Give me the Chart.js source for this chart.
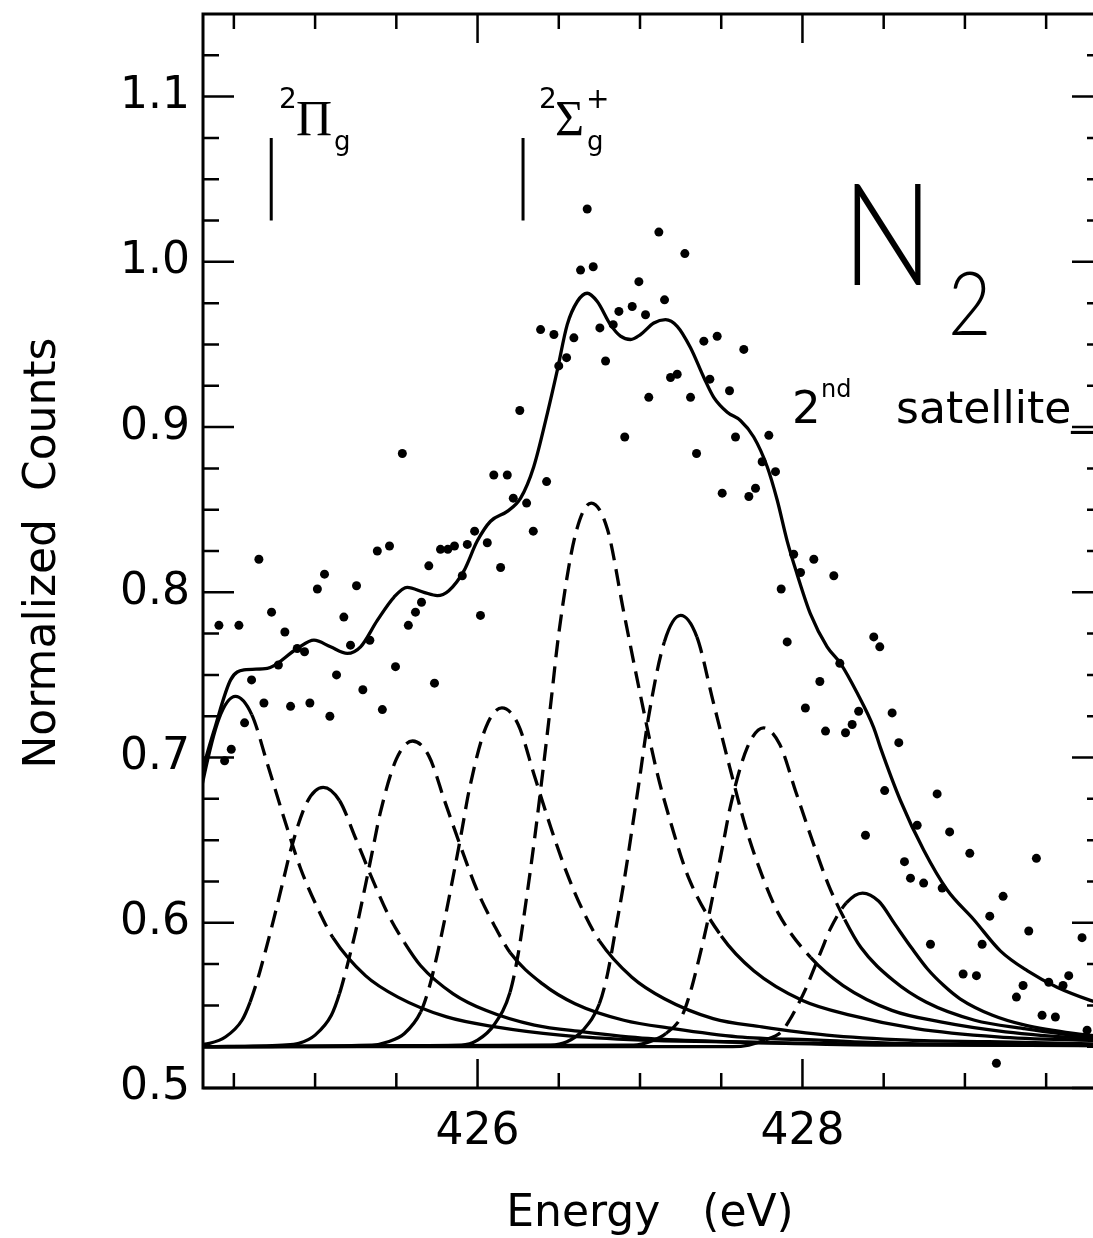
<!DOCTYPE html>
<html>
<head>
<meta charset="utf-8">
<script src="https://cdn.jsdelivr.net/npm/chart.js@4.4.0/dist/chart.umd.min.js"></script>
<style>
  html, body { margin: 0; padding: 0; background: #fff; overflow: hidden; }
  #wrap { width: 1093px; height: 1238px; overflow: hidden; }
</style>
</head>
<body>
<div id="wrap"><canvas id="chart" width="1110" height="1238"></canvas></div>
<script>
// measured points (energy in eV, normalized counts)
const dotEnergy = [424.408, 424.443, 424.484, 424.531, 424.566, 424.609, 424.654, 424.685, 424.732, 424.774,
  424.814, 424.849, 424.890, 424.935, 424.968, 425.014, 425.058, 425.091, 425.132, 425.177,
  425.218, 425.255, 425.294, 425.337, 425.383, 425.414, 425.458, 425.495, 425.537, 425.574,
  425.618, 425.655, 425.700, 425.735, 425.772, 425.817, 425.858, 425.906, 425.937, 425.982,
  426.018, 426.060, 426.100, 426.142, 426.183, 426.220, 426.260, 426.302, 426.343, 426.388,
  426.425, 426.470, 426.500, 426.548, 426.593, 426.634, 426.675, 426.712, 426.753, 426.788,
  426.835, 426.870, 426.906, 426.952, 426.993, 427.034, 427.054, 427.116, 427.151, 427.188,
  427.229, 427.276, 427.311, 427.348, 427.393, 427.430, 427.475, 427.506, 427.551, 427.588,
  427.639, 427.670, 427.711, 427.752, 427.793, 427.834, 427.869, 427.906, 427.946, 427.988,
  428.018, 428.070, 428.107, 428.142, 428.193, 428.230, 428.265, 428.306, 428.346, 428.388,
  428.439, 428.476, 428.506, 428.552, 428.593, 428.628, 428.665, 428.706, 428.746, 428.788,
  428.829, 428.860, 428.906, 428.989, 429.030, 429.071, 429.106, 429.153, 429.194, 429.235,
  429.317, 429.358, 429.393, 429.440, 429.475, 429.516, 429.557, 429.604, 429.639, 429.721,
  429.752];
const dotCounts = [0.780, 0.698, 0.705, 0.780, 0.721, 0.747, 0.820, 0.733, 0.788, 0.756,
  0.776, 0.731, 0.766, 0.764, 0.733, 0.802, 0.811, 0.725, 0.750, 0.785,
  0.768, 0.804, 0.741, 0.771, 0.825, 0.729, 0.828, 0.755, 0.884, 0.780,
  0.788, 0.794, 0.816, 0.745, 0.826, 0.826, 0.828, 0.810, 0.829, 0.837,
  0.786, 0.830, 0.871, 0.815, 0.871, 0.857, 0.910, 0.854, 0.837, 0.959,
  0.867, 0.956, 0.937, 0.942, 0.954, 0.995, 1.032, 0.997, 0.960, 0.940,
  0.962, 0.970, 0.894, 0.973, 0.988, 0.968, 0.918, 1.018, 0.977, 0.930,
  0.932, 1.005, 0.918, 0.884, 0.952, 0.929, 0.955, 0.860, 0.922, 0.894,
  0.947, 0.858, 0.863, 0.879, 0.895, 0.873, 0.802, 0.770, 0.823, 0.812,
  0.730, 0.820, 0.746, 0.716, 0.810, 0.757, 0.715, 0.720, 0.728, 0.653,
  0.773, 0.767, 0.680, 0.727, 0.709, 0.637, 0.627, 0.659, 0.624, 0.587,
  0.678, 0.621, 0.655, 0.569, 0.642, 0.568, 0.587, 0.604, 0.515, 0.616,
  0.555, 0.562, 0.595, 0.639, 0.544, 0.564, 0.543, 0.562, 0.568, 0.591,
  0.535];

// total fit
const fitEnergy = [424.25, 424.32, 424.377, 424.48, 424.562, 424.706, 424.89, 424.993, 425.095, 425.198,
  425.28, 425.383, 425.485, 425.567, 425.67, 425.752, 425.823, 425.916, 425.998, 426.08,
  426.183, 426.265, 426.346, 426.429, 426.49, 426.552, 426.614, 426.675, 426.737, 426.818,
  426.88, 426.942, 427.003, 427.085, 427.157, 427.229, 427.311, 427.393, 427.454, 427.537,
  427.618, 427.70, 427.783, 427.844, 427.906, 427.967, 428.049, 428.152, 428.234, 428.337,
  428.439, 428.48, 428.603, 428.746, 428.89, 429.054, 429.218, 429.383, 429.567, 429.772, 429.9];
const fitCounts = [0.672, 0.697, 0.716, 0.747, 0.753, 0.754, 0.766, 0.771, 0.767, 0.763,
  0.767, 0.783, 0.797, 0.803, 0.800, 0.798, 0.801, 0.813, 0.831, 0.843,
  0.849, 0.857, 0.876, 0.908, 0.934, 0.962, 0.976, 0.981, 0.976, 0.962,
  0.955, 0.953, 0.956, 0.963, 0.965, 0.961, 0.948, 0.930, 0.918, 0.909,
  0.904, 0.894, 0.876, 0.856, 0.831, 0.811, 0.787, 0.767, 0.757, 0.739,
  0.718, 0.706, 0.674, 0.644, 0.620, 0.602, 0.583, 0.571, 0.561, 0.553, 0.549];

// vibrational components
const compAEnergy = [424.21, 424.26, 424.31, 424.41, 424.51, 424.61, 424.71, 424.81, 424.91, 425.01, 425.11, 425.31, 425.51, 425.81, 426.11, 426.51, 427.01, 427.51, 428.51, 429.51, 430.0];
const compACounts = [0.631, 0.659, 0.686, 0.724, 0.737, 0.726, 0.695, 0.663, 0.633, 0.610, 0.591, 0.568, 0.555, 0.543, 0.537, 0.532, 0.529, 0.528, 0.526, 0.526, 0.5255];

const compBEnergy = [424.25, 424.35, 424.45, 424.55, 424.60, 424.65, 424.70, 424.75, 424.80, 424.85, 424.95, 425.05, 425.15, 425.25, 425.35, 425.45, 425.55, 425.65, 425.85, 426.05, 426.35, 426.65, 427.05, 427.55, 428.05, 429.05, 430.05];
const compBCounts = [0.526, 0.527, 0.531, 0.541, 0.552, 0.567, 0.585, 0.604, 0.624, 0.644, 0.673, 0.682, 0.674, 0.651, 0.627, 0.605, 0.588, 0.574, 0.557, 0.547, 0.538, 0.534, 0.530, 0.528, 0.527, 0.526, 0.5255];

const compCEnergy = [424.30, 424.80, 424.90, 425.00, 425.10, 425.15, 425.20, 425.25, 425.30, 425.35, 425.40, 425.50, 425.60, 425.70, 425.80, 425.90, 426.00, 426.10, 426.20, 426.40, 426.60, 426.90, 427.20, 427.60, 428.10, 428.60, 429.60, 430.10];
const compCCounts = [0.525, 0.526, 0.527, 0.532, 0.544, 0.557, 0.575, 0.595, 0.618, 0.642, 0.666, 0.699, 0.710, 0.701, 0.673, 0.645, 0.619, 0.599, 0.582, 0.563, 0.551, 0.541, 0.536, 0.531, 0.529, 0.527, 0.526, 0.5255];

const compDEnergy = [424.30, 425.35, 425.45, 425.55, 425.65, 425.70, 425.75, 425.80, 425.85, 425.90, 425.95, 426.05, 426.15, 426.25, 426.35, 426.45, 426.55, 426.65, 426.75, 426.95, 427.15, 427.45, 427.75, 428.15, 428.65, 429.15, 430.15];
const compDCounts = [0.525, 0.526, 0.528, 0.533, 0.546, 0.560, 0.580, 0.603, 0.628, 0.654, 0.681, 0.718, 0.730, 0.720, 0.689, 0.658, 0.630, 0.607, 0.589, 0.567, 0.554, 0.542, 0.537, 0.532, 0.529, 0.528, 0.526];

const compEEnergy = [424.30, 425.90, 426.00, 426.10, 426.20, 426.25, 426.30, 426.35, 426.40, 426.45, 426.50, 426.60, 426.70, 426.80, 426.90, 427.00, 427.10, 427.20, 427.30, 427.50, 427.70, 428.00, 428.30, 428.70, 429.20, 429.70, 430.70];
const compECounts = [0.525, 0.526, 0.529, 0.538, 0.558, 0.581, 0.614, 0.650, 0.690, 0.732, 0.775, 0.834, 0.854, 0.838, 0.788, 0.739, 0.693, 0.657, 0.627, 0.592, 0.571, 0.553, 0.544, 0.536, 0.531, 0.529, 0.527];

const compFEnergy = [424.30, 426.45, 426.55, 426.65, 426.75, 426.80, 426.85, 426.90, 426.95, 427.00, 427.05, 427.15, 427.25, 427.35, 427.45, 427.55, 427.65, 427.75, 427.85, 428.05, 428.25, 428.55, 428.85, 429.25, 429.75, 430.25];
const compFCounts = [0.525, 0.526, 0.528, 0.535, 0.551, 0.569, 0.596, 0.624, 0.656, 0.689, 0.723, 0.770, 0.786, 0.773, 0.734, 0.695, 0.658, 0.629, 0.606, 0.579, 0.562, 0.547, 0.540, 0.534, 0.530, 0.528];

const compGEnergy = [424.30, 426.96, 427.06, 427.16, 427.26, 427.31, 427.36, 427.41, 427.46, 427.51, 427.56, 427.66, 427.76, 427.86, 427.96, 428.06, 428.16, 428.26, 428.36, 428.56, 428.76, 429.06, 429.36, 429.76, 430.26];
const compGCounts = [0.525, 0.526, 0.528, 0.533, 0.544, 0.558, 0.577, 0.598, 0.622, 0.647, 0.672, 0.706, 0.718, 0.708, 0.679, 0.650, 0.623, 0.602, 0.585, 0.565, 0.552, 0.541, 0.536, 0.531, 0.529];

const compHEnergy = [424.30, 427.57, 427.67, 427.77, 427.87, 427.92, 427.97, 428.02, 428.07, 428.12, 428.17, 428.27, 428.37, 428.47, 428.57, 428.67, 428.77, 428.87, 428.97, 429.17, 429.37, 429.67, 429.97];
const compHCounts = [0.525, 0.525, 0.526, 0.529, 0.534, 0.541, 0.550, 0.560, 0.572, 0.584, 0.596, 0.612, 0.618, 0.613, 0.599, 0.585, 0.572, 0.562, 0.554, 0.544, 0.538, 0.533, 0.530];

// axis ticks
const xLabelTicks = [426, 428];
const xMinorTicks = [424.5, 425, 425.5, 426.5, 427, 427.5, 428.5, 429, 429.5];
const yLabelTicks = [0.5, 0.6, 0.7, 0.8, 0.9, 1.0, 1.1];
const yMinorTicks = [0.525, 0.55, 0.575, 0.625, 0.65, 0.675, 0.725, 0.75, 0.775, 0.825, 0.85, 0.875,
  0.925, 0.95, 0.975, 1.025, 1.05, 1.075, 1.125];

// state markers (energy)
const piMarker = 424.73;
const sigmaMarker = 426.28;

const FONT = "'DejaVu Sans', sans-serif";
const DASH = [17, 9];

function pairs(xs, ys) {
  return xs.map((x, i) => ({ x: x, y: ys[i] }));
}

// dashed where the segment's middle falls in one of the ranges
function dashIn(ranges) {
  return ctx => {
    const mid = (ctx.p0.parsed.x + ctx.p1.parsed.x) / 2;
    return ranges.some(r => mid >= r[0] && mid <= r[1]) ? DASH : undefined;
  };
}

function component(xs, ys, ranges) {
  return {
    data: pairs(xs, ys),
    showLine: true,
    borderColor: '#000',
    borderWidth: 3.3,
    pointRadius: 0,
    cubicInterpolationMode: 'monotone',
    borderDash: [],
    segment: { borderDash: dashIn(ranges) }
  };
}

const overlay = {
  id: 'overlay',
  afterDraw(chart) {
    const { ctx, chartArea: a, scales: { x, y } } = chart;
    ctx.save();
    ctx.strokeStyle = '#000';
    ctx.fillStyle = '#000';

    // inward ticks on every side
    ctx.lineWidth = 2.5;
    ctx.beginPath();
    xMinorTicks.concat(xLabelTicks).forEach(v => {
      const len = xLabelTicks.includes(v) ? 29 : 15;
      const px = x.getPixelForValue(v);
      ctx.moveTo(px, a.bottom); ctx.lineTo(px, a.bottom - len);
      ctx.moveTo(px, a.top); ctx.lineTo(px, a.top + len);
    });
    yMinorTicks.concat(yLabelTicks).forEach(v => {
      const len = yLabelTicks.includes(v) ? 31 : 16;
      const py = y.getPixelForValue(v);
      ctx.moveTo(a.left, py); ctx.lineTo(a.left + len, py);
      ctx.moveTo(a.right, py); ctx.lineTo(a.right - len, py);
    });
    ctx.stroke();

    ctx.lineWidth = 3;
    ctx.strokeRect(a.left, a.top, a.right - a.left, a.bottom - a.top);

    // state markers
    ctx.beginPath();
    [piMarker, sigmaMarker].forEach(v => {
      const px = x.getPixelForValue(v);
      ctx.moveTo(px, y.getPixelForValue(1.075));
      ctx.lineTo(px, y.getPixelForValue(1.025));
    });
    ctx.stroke();

    ctx.textAlign = 'left';
    ctx.textBaseline = 'alphabetic';
    ctx.font = '28px ' + FONT;
    ctx.fillText('2', 279, 108);
    ctx.fillText('2', 539, 108);
    ctx.fillText('+', 586, 108);
    ctx.font = "50px 'Liberation Serif', serif";
    ctx.fillText('\u03A0', 296, 135);
    ctx.fillText('\u03A3', 555, 135);
    ctx.font = '26px ' + FONT;
    ctx.fillText('g', 334, 150);
    ctx.fillText('g', 587, 150);

    // N2
    ctx.save();
    ctx.translate(842, 285);
    ctx.scale(0.85, 1);
    ctx.font = "300 142px Lato, " + FONT;
    ctx.fillText('N', 0, 0);
    ctx.restore();
    ctx.save();
    ctx.translate(948, 335);
    ctx.scale(0.85, 1);
    ctx.font = "300 88px Lato, " + FONT;
    ctx.fillText('2', 0, 0);
    ctx.restore();

    ctx.font = '45px ' + FONT;
    ctx.fillText('2', 792, 423);
    ctx.font = '24px ' + FONT;
    ctx.fillText('nd', 821, 397);
    ctx.font = '44px ' + FONT;
    ctx.fillText('satellite_', 896, 423);

    // axis titles
    ctx.font = '44px ' + FONT;
    ctx.textAlign = 'center';
    ctx.fillText('Energy   (eV)', 650, 1226);
    ctx.save();
    ctx.translate(55, 553);
    ctx.rotate(-Math.PI / 2);
    ctx.fillText('Normalized  Counts', 0, 0);
    ctx.restore();

    ctx.restore();
  }
};

new Chart(document.getElementById('chart'), {
  type: 'scatter',
  data: {
    datasets: [
      {
        data: pairs(dotEnergy, dotCounts),
        pointRadius: 4.5,
        pointBackgroundColor: '#000',
        pointBorderWidth: 0,
        showLine: false
      },
      {
        data: pairs(fitEnergy, fitCounts),
        showLine: true,
        borderColor: '#000',
        borderWidth: 3.3,
        pointRadius: 0,
        cubicInterpolationMode: 'monotone'
      },
      component(compAEnergy, compACounts, [[424.58, 425.15]]),
      component(compBEnergy, compBCounts, [[424.60, 424.99], [425.12, 425.53]]),
      component(compCEnergy, compCCounts, [[425.16, 426.20]]),
      component(compDEnergy, compDCounts, [[425.65, 426.80]]),
      component(compEEnergy, compECounts, [[426.18, 427.42]]),
      component(compFEnergy, compFCounts, [[426.75, 427.15], [427.35, 428.10]]),
      component(compGEnergy, compGCounts, [[427.21, 428.28]]),
      component(compHEnergy, compHCounts, [[427.82, 428.23]])
    ]
  },
  options: {
    responsive: false,
    devicePixelRatio: 1,
    animation: false,
    layout: { padding: { left: 0, top: 14, right: 7, bottom: 0 } },
    plugins: { legend: { display: false }, tooltip: { enabled: false } },
    scales: {
      x: {
        type: 'linear',
        min: 424.31,
        max: 429.85,
        grid: { display: false, drawTicks: false },
        border: { display: false },
        afterBuildTicks: s => { s.ticks = xLabelTicks.map(v => ({ value: v })); },
        afterFit: s => { s.height = 150; s.paddingLeft = 0; s.paddingRight = 0; },
        ticks: {
          color: '#000',
          font: { family: FONT, size: 44 },
          padding: 18,
          maxRotation: 0,
          autoSkip: false,
          callback: v => String(v)
        }
      },
      y: {
        type: 'linear',
        min: 0.5,
        max: 1.15,
        grid: { display: false, drawTicks: false },
        border: { display: false },
        afterBuildTicks: s => { s.ticks = yLabelTicks.map(v => ({ value: v })); },
        afterFit: s => { s.width = 203; s.paddingTop = 0; s.paddingBottom = 0; },
        ticks: {
          color: '#000',
          font: { family: FONT, size: 44 },
          padding: 13,
          autoSkip: false,
          callback: v => v.toFixed(1)
        }
      }
    }
  },
  plugins: [overlay]
});
</script>
</body>
</html>
